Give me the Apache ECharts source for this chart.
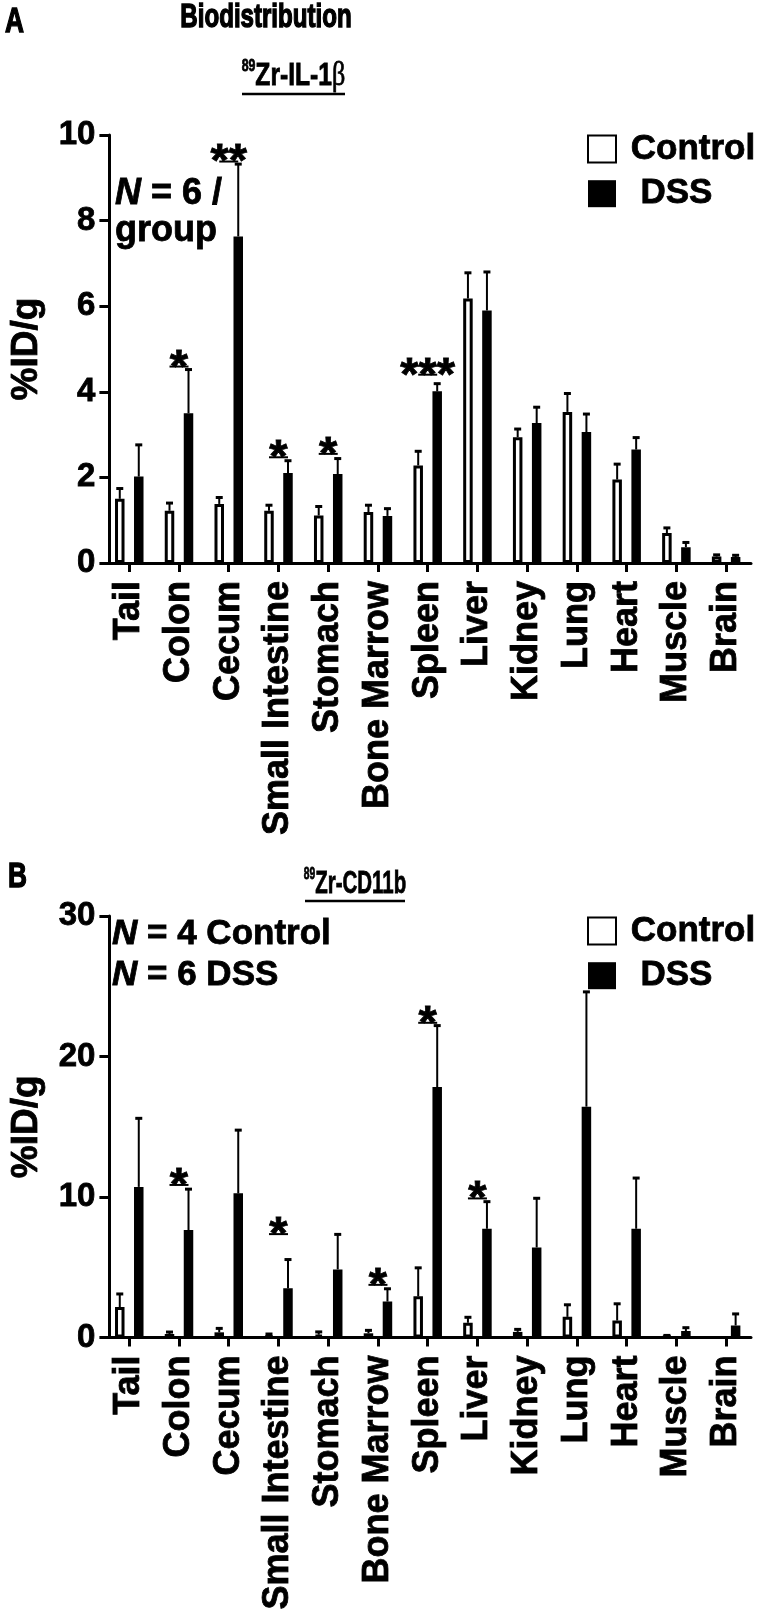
<!DOCTYPE html>
<html>
<head>
<meta charset="utf-8">
<script src="https://cdn.jsdelivr.net/npm/echarts@6/dist/echarts.min.js"></script>
<style>
html,body{margin:0;padding:0;background:#fff;}
#c{width:757px;height:1613px;}
</style>
</head>
<body>
<div id="c"></div>
<script>
// ---------- data ----------
const categories = ['Tail','Colon','Cecum','Small Intestine','Stomach','Bone Marrow','Spleen','Liver','Kidney','Lung','Heart','Muscle','Brain'];
const seriesNames = ['Control','DSS'];

// Panel A: 89Zr-IL-1beta (%ID/g, mean and SEM)
const controlA    = [1.50, 1.22, 1.38, 1.22, 1.11, 1.19, 2.28, 6.18, 2.94, 3.53, 1.95, 0.70, 0.15];
const controlAErr = [0.24, 0.18, 0.15, 0.13, 0.21, 0.16, 0.33, 0.60, 0.19, 0.43, 0.36, 0.12, 0.04];
const dssA        = [2.02, 3.50, 7.63, 2.10, 2.08, 1.10, 4.01, 5.90, 3.27, 3.06, 2.65, 0.37, 0.14];
const dssAErr     = [0.74, 1.02, 1.69, 0.29, 0.36, 0.17, 0.18, 0.90, 0.37, 0.42, 0.28, 0.11, 0.04];
const yTicksA = [0, 2, 4, 6, 8, 10];

// Panel B: 89Zr-CD11b
const controlB    = [2.17, 0.25, 0.37, 0.15, 0.20, 0.30, 2.93, 1.05, 0.40, 1.47, 1.21, 0.10, 0.00];
const controlBErr = [0.93, 0.14, 0.28, 0.10, 0.20, 0.21, 2.03, 0.39, 0.18, 0.86, 1.19, 0.05, 0.00];
const dssB        = [10.72, 7.65, 10.26, 3.50, 4.85, 2.56, 17.83, 7.74, 6.41, 16.43, 7.74, 0.46, 0.86];
const dssBErr     = [4.88, 2.91, 4.50, 2.05, 2.49, 0.91, 4.37, 1.93, 3.50, 8.17, 3.61, 0.24, 0.82];
const yTicksB = [0, 10, 20, 30];

// significance marks: [category index, height of comparison line, label]
const sigA = [[1, 4.59, '*'], [2, 9.38, '**'], [3, 2.47, '*'], [4, 2.55, '*'], [6, 4.40, '***']];
const sigB = [[1, 10.86, '*'], [3, 7.36, '*'], [5, 3.75, '*'], [6, 22.4, '*'], [7, 9.9, '*']];

// ---------- styling ----------
const FF = '"Liberation Sans", Arial, Helvetica, sans-serif';
const HALF = 9.5;   // px from category centre to each bar centre
const HEAVY = {textBorderColor:'#000', textBorderWidth:0.8};

function xAxisDef(gi){
  return {
    type:'category', gridIndex:gi, data:categories, boundaryGap:true,
    axisLine:{show:true, lineStyle:{color:'#000', width:3}},
    axisTick:{show:true, alignWithLabel:true, length:9, lineStyle:{color:'#000', width:3}},
    axisLabel:Object.assign({rotate:90, fontSize:36, fontWeight:'bold', color:'#000', fontFamily:FF, margin:18, interval:0}, HEAVY),
    splitLine:{show:false}
  };
}
function yAxisDef(gi, ticks){
  return {
    type:'value', gridIndex:gi, min:ticks[0], max:ticks[ticks.length-1], interval:ticks[1]-ticks[0],
    offset:-5,
    name:'%ID/g', nameLocation:'middle', nameGap:64, nameRotate:90,
    nameTextStyle:Object.assign({fontSize:37, fontWeight:'bold', color:'#000', fontFamily:FF}, HEAVY),
    axisLine:{show:true, lineStyle:{color:'#000', width:3}},
    axisTick:{show:true, length:10, lineStyle:{color:'#000', width:3}},
    axisLabel:Object.assign({fontSize:33, fontWeight:'bold', color:'#000', fontFamily:FF, margin:14}, HEAVY),
    splitLine:{show:false}
  };
}
function barSeries(name, gi, vals, fill){
  return {
    type:'bar', name:name, xAxisIndex:gi, yAxisIndex:gi, data:vals,
    barWidth:9.5, barGap:'100%',
    itemStyle:{color:fill, borderColor:'#000', borderWidth:3},
    emphasis:{disabled:true}, z:2
  };
}
function errSeries(name, gi, vals, errs, off){
  return {
    type:'custom', name:name, xAxisIndex:gi, yAxisIndex:gi,
    data: vals.map((v,i)=>[i, v, errs[i]]),
    encode:{x:0, y:1},
    z:3, silent:true,
    renderItem:function(params, api){
      const e = api.value(2);
      if(!(e > 0)) return null;
      const base = api.coord([api.value(0), api.value(1)]);
      const top = api.coord([api.value(0), api.value(1) + e]);
      const x = base[0] + off;
      return {type:'group', children:[
        {type:'line', shape:{x1:x, y1:base[1], x2:x, y2:top[1]}, style:{stroke:'#000', lineWidth:2}},
        {type:'line', shape:{x1:x-3.5, y1:top[1], x2:x+3.5, y2:top[1]}, style:{stroke:'#000', lineWidth:3}}
      ]};
    }
  };
}
function sigSeries(gi, sig){
  return {
    type:'custom', xAxisIndex:gi, yAxisIndex:gi,
    data: sig.map(s=>[s[0], s[1]]),
    encode:{x:0, y:1}, z:4, silent:true,
    renderItem:function(params, api){
      const p = api.coord([api.value(0), api.value(1)]);
      const label = sig[params.dataIndex][2];
      return {type:'group', children:[
        {type:'line', shape:{x1:p[0]-HALF, y1:p[1], x2:p[0]+HALF, y2:p[1]}, style:{stroke:'#000', lineWidth:2}},
        {type:'text', style:{x:p[0], y:p[1]+2, text:label, align:'center', verticalAlign:'middle',
          fontSize:47, fontWeight:'bold', fontFamily:FF, fill:'#000', stroke:'#000', lineWidth:0.8}}
      ]};
    }
  };
}
function legendDef(top){
  return {
    orient:'vertical', left:587, top:top, padding:0, itemWidth:28, itemHeight:27, itemGap:9,
    icon:'rect', selectedMode:false,
    formatter:function(n){ return n === 'DSS' ? '  DSS' : ' ' + n; },
    textStyle:Object.assign({fontSize:35, fontWeight:'bold', color:'#000', fontFamily:FF}, HEAVY),
    data:[
      {name:seriesNames[0], itemStyle:{color:'#fff', borderColor:'#000', borderWidth:2}},
      {name:seriesNames[1], itemStyle:{color:'#000', borderColor:'#000', borderWidth:0}}
    ]
  };
}

const subRich = {
  sup:{fontSize:16, fontWeight:'bold', fontFamily:FF, verticalAlign:'top', lineHeight:34},
  m:{fontSize:32, fontWeight:'bold', fontFamily:FF, lineHeight:34},
  g:{fontSize:34, fontWeight:'normal', fontFamily:'"Liberation Serif", "DejaVu Serif", serif', lineHeight:34}
};
const nRich = function(lh, fs){
  return {
    i:{fontSize:fs, fontWeight:'bold', fontStyle:'italic', fontFamily:FF, lineHeight:lh},
    r:{fontSize:fs, fontWeight:'bold', fontFamily:FF, lineHeight:lh}
  };
};
const plainTitle = function(txt, fs, align){
  return {text:txt, fontSize:fs, fontWeight:'bold', fontFamily:FF, fill:'#000', stroke:'#000', lineWidth:1.4,
          align:align, verticalAlign:'top'};
};

const option = {
  animation:false,
  backgroundColor:'#fff',
  grid:[
    {left:101, top:135, width:650, height:428, containLabel:false},
    {left:101, top:916, width:650, height:429, containLabel:false}
  ],
  xAxis:[xAxisDef(0), xAxisDef(1)],
  yAxis:[yAxisDef(0, yTicksA), yAxisDef(1, yTicksB)],
  legend:[legendDef(131), legendDef(913)],
  series:[
    barSeries(seriesNames[0], 0, controlA, '#fff'),
    barSeries(seriesNames[1], 0, dssA, '#000'),
    errSeries(seriesNames[0], 0, controlA, controlAErr, -HALF),
    errSeries(seriesNames[1], 0, dssA, dssAErr, HALF),
    sigSeries(0, sigA),
    barSeries(seriesNames[0], 1, controlB, '#fff'),
    barSeries(seriesNames[1], 1, dssB, '#000'),
    errSeries(seriesNames[0], 1, controlB, controlBErr, -HALF),
    errSeries(seriesNames[1], 1, dssB, dssBErr, HALF),
    sigSeries(1, sigB)
  ],
  graphic:[
    {type:'text', x:5, y:5, scaleX:0.75, style:plainTitle('A', 35, 'left')},
    {type:'text', x:266, y:1, scaleX:0.73, style:plainTitle('Biodistribution', 33, 'center')},
    {type:'text', x:293.5, y:59, scaleX:0.77, style:{text:'{sup|89}{m|Zr-IL-1}{g|β}', rich:subRich, align:'center', verticalAlign:'top', fill:'#000', stroke:'#000', lineWidth:0.8}},
    {type:'line', shape:{x1:242, y1:94, x2:345, y2:94}, style:{stroke:'#000', lineWidth:2.5}},
    {type:'text', x:115, y:176, style:{text:'{i|N}{r| = 6 /}\n{r|group}', fill:'#000', stroke:'#000', lineWidth:0.8, rich:nRich(37, 36), align:'left', verticalAlign:'top'}},

    {type:'text', x:8, y:860, scaleX:0.75, style:plainTitle('B', 35, 'left')},
    {type:'text', x:355, y:867, scaleX:0.64, style:{text:'{sup|89}{m|Zr-CD11b}', rich:subRich, align:'center', verticalAlign:'top', fill:'#000', stroke:'#000', lineWidth:0.8}},
    {type:'line', shape:{x1:305, y1:901, x2:405, y2:901}, style:{stroke:'#000', lineWidth:2.5}},
    {type:'text', x:112, y:914, style:{text:'{i|N}{r| = 4 Control}\n{i|N}{r| = 6 DSS}', fill:'#000', stroke:'#000', lineWidth:0.8, rich:nRich(41, 35), align:'left', verticalAlign:'top'}}
  ]
};

const chart = echarts.init(document.getElementById('c'), null, {renderer:'canvas', width:757, height:1613});
chart.setOption(option);
</script>
</body>
</html>
